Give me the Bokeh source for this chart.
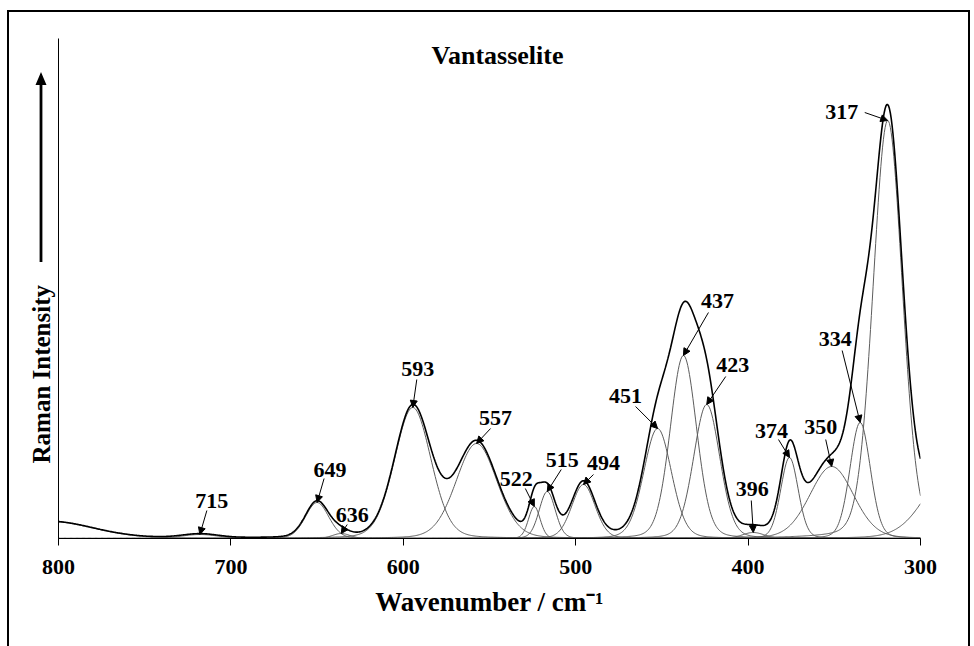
import numpy as np
from bokeh.plotting import figure
from bokeh.models import (Range1d, FixedTicker, Label, Arrow, NormalHead, Title,
                          ColumnDataSource, InlineStyleSheet)
from bokeh.embed import file_html
from bokeh.resources import INLINE
from bokeh.core.properties import value

# ---------------- data ----------------
band_labels = ["715", "649", "636", "593", "557", "522", "515", "494",
               "451", "437", "423", "396", "374", "350", "334", "317"]
band_centers = [718, 650, 636, 594.5, 557.5, 524, 516.5, 495.5,
                452.5, 437.5, 424, 397, 376, 351.5, 335, 319]
band_heights = [4, 36, 5, 131, 95, 32, 47, 54,
                110, 183, 134, 6, 81, 72, 116, 418]
band_fwhm = [25, 16, 12, 25, 28, 8, 11, 16,
             19, 18, 18, 15, 12, 30, 14, 20]
lorentz_fraction = 0.15
background_centers = [805, 280]
background_heights = [17, 75]
background_fwhm = [60, 38]
x_ticks = [800, 700, 600, 500, 400, 300]
x_range_limits = [800, 300]
y_range_limits = [0, 500]

# ---------------- layout constants (pixels) ----------------
W, H = 974, 646
FL, FR, FT, FB = 58, 920, 38, 538
XS = (x_range_limits[0] - x_range_limits[1]) / (FR - FL)
YS = (y_range_limits[1] - y_range_limits[0]) / (FB - FT)


def px2x(px):
    return x_range_limits[0] - (px - FL) * XS


def py2y(py):
    return y_range_limits[0] + (FB - py) * YS


# label text offset (dx, dy) and arrow-start offset, screen pixels from the tip
label_offsets = [(12, -34, 7, -24), (13, -33, 7, -24), (11, -19, 6, -9),
                 (5, -39, 4, -28), (19, -26, 14, -15), (-18, -28, -9, -18),
                 (15, -32, 14, -22), (20, -22, 10, -10), (-32, -33, -22, -22),
                 (34, -55, 25, -43), (26, -40, 19, -28), (-1, -44, -2, -32),
                 (-18, -27, -11, -18), (-11, -40, -6, -27), (-25, -84, -18, -72),
                 (-46, -9, -23, -8)]

FONT = value("Liberation Serif")


def pv(x, c, h, w, eta):
    d2 = (x - c) ** 2 / w ** 2
    g = np.exp(-4 * np.log(2) * d2)
    lo = 1.0 / (1.0 + 4 * d2)
    return h * ((1 - eta) * g + eta * lo)


x = np.arange(300, 800.001, 0.5)
components = [pv(x, c, h, w, lorentz_fraction)
              for c, h, w in zip(band_centers, band_heights, band_fwhm)]
backgrounds = [pv(x, c, h, w, lorentz_fraction)
               for c, h, w in zip(background_centers, background_heights, background_fwhm)]
total = np.sum(components, axis=0) + np.sum(backgrounds, axis=0)

# outer frame and intensity arrow of the original figure (decorations)
deco_css = InlineStyleSheet(css="""
:host::before {
  content: ""; position: absolute; left: 7px; top: 10px; width: 963px; height: 640px;
  border: 2px solid #000; border-bottom: none; box-sizing: border-box;
  pointer-events: none; z-index: 5;
}
:host::after {
  content: ""; position: absolute; left: 35px; top: 72px; width: 12px; height: 190px;
  background: #000; pointer-events: none; z-index: 5;
  clip-path: polygon(6px 0px, 11.5px 13px, 7.4px 13px, 7.4px 190px, 4.6px 190px,
                     4.6px 13px, 0.5px 13px);
}
""")

p = figure(width=W, height=H, output_backend="svg", toolbar_location=None,
           x_range=Range1d(*x_range_limits), y_range=Range1d(*y_range_limits),
           min_border_left=FL, min_border_right=W - FR,
           min_border_top=FT, min_border_bottom=H - FB,
           stylesheets=[deco_css])
p.outline_line_color = None
p.background_fill_color = "white"
p.border_fill_color = "white"
p.xgrid.visible = False
p.ygrid.visible = False

for comp in components + backgrounds:
    p.line(x, comp, line_color="#5c5c5c", line_width=1)
p.line(x, total, line_color="black", line_width=1.6)

# x axis
xa = p.xaxis[0]
xa.ticker = FixedTicker(ticks=x_ticks)
xa.minor_tick_line_color = None
xa.major_tick_out = 7
xa.major_tick_in = 0
xa.axis_line_color = "black"
xa.major_tick_line_color = "black"
xa.major_label_text_font = "Liberation Serif"
xa.major_label_text_font_style = "bold"
xa.major_label_text_font_size = "22px"
xa.major_label_text_color = "black"
xa.major_label_standoff = 14
xa.axis_label = "Wavenumber / cm\u207b\u00b9"
xa.axis_label_text_font = "Liberation Serif"
xa.axis_label_text_font_style = "bold"
xa.axis_label_text_font_size = "27px"
xa.axis_label_text_color = "black"
xa.axis_label_standoff = 10

# y axis: line only
ya = p.yaxis[0]
ya.ticker = FixedTicker(ticks=[])
ya.major_tick_line_color = None
ya.minor_tick_line_color = None
ya.major_tick_out = 0
ya.major_label_standoff = 0
ya.axis_line_color = "black"

# y axis title (left panel)
p.add_layout(Title(text="Raman Intensity", align="left", offset=75,
                   text_font="Liberation Serif", text_font_style="bold",
                   text_font_size="25px", text_color="black", standoff=8), "left")

# peak annotations
tx, ty, xs0, ys0, xe, ye = [], [], [], [], [], []
for c, h, (dx, dy, sx, sy) in zip(band_centers, band_heights, label_offsets):
    xe.append(c)
    ye.append(h)
    tx.append(c - dx * XS)
    ty.append(h - dy * YS)
    xs0.append(c - sx * XS)
    ys0.append(h - sy * YS)

lab_src = ColumnDataSource(dict(x=tx, y=ty, text=band_labels))
p.text(x="x", y="y", text="text", source=lab_src, text_font=FONT,
       text_font_style="bold", text_font_size="22px", text_color="black",
       text_align="center", text_baseline="middle")

arr_src = ColumnDataSource(dict(x0=xs0, y0=ys0, x1=xe, y1=ye))
p.add_layout(Arrow(end=NormalHead(size=7, fill_color="black", line_color="black"),
                   source=arr_src, x_start="x0", y_start="y0", x_end="x1", y_end="y1",
                   line_color="black", line_width=1))

# chart title (inside the plot area)
p.add_layout(Label(x=px2x(497), y=py2y(55), text="Vantasselite",
                   text_font="Liberation Serif", text_font_style="bold",
                   text_font_size="26px", text_color="black",
                   text_align="center", text_baseline="middle"))

open("out.html", "w").write(file_html(p, INLINE))
